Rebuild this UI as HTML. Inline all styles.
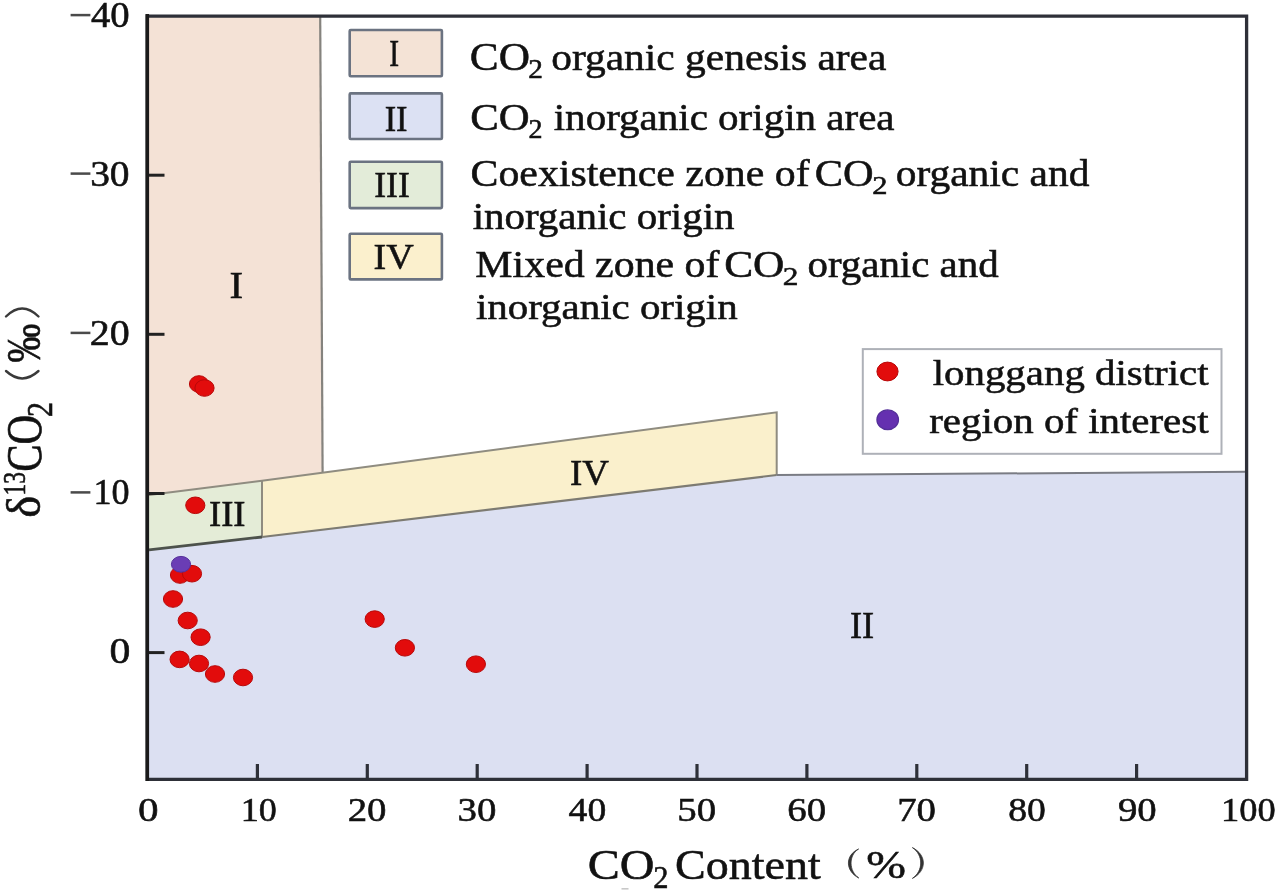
<!DOCTYPE html>
<html><head><meta charset="utf-8"><style>
html,body{margin:0;padding:0;background:#fff;}
svg{display:block;filter:blur(0.45px);}
text{font-family:"Liberation Serif", serif;stroke:#111;stroke-width:0.55px;paint-order:stroke;}
</style></head><body>
<svg width="1278" height="893" viewBox="0 0 1278 893">
<rect width="1278" height="893" fill="#fff"/>
<polygon points="149,17 320.2,17 322.6,472.5 262,480.8 149,495.0" fill="#f4e2d6"/>
<polygon points="149,495.0 262,480.8 262,537.0 149,549.8" fill="#e4ecd7"/>
<polygon points="262,480.8 776.7,412.3 776.7,475.0 262,537.0" fill="#faf0cc"/>
<polygon points="149,549.8 262,537.0 776.7,475.0 1245,471.8 1245,778 149,778" fill="#dce0f2"/>
<polyline points="320.2,17 322.6,472.5" fill="none" stroke="#85837e" stroke-width="2.2"/>
<polyline points="149,495.0 262,480.8 776.7,412.3 776.7,475.0" fill="none" stroke="#8f8c80" stroke-width="2"/>
<polyline points="262,480.8 262,537.0" fill="none" stroke="#8f8c80" stroke-width="2"/>
<polyline points="149,549.8 262,537.0" fill="none" stroke="#4d524c" stroke-width="2.8"/>
<polyline points="262,537.0 776.7,475.0" fill="none" stroke="#7d7b72" stroke-width="2.2"/>
<polyline points="776.7,475.0 1245,471.8" fill="none" stroke="#7a7c84" stroke-width="2"/>
<line x1="257.4" y1="764" x2="257.4" y2="779" stroke="#2e3038" stroke-width="3.2"/>
<line x1="367.3" y1="764" x2="367.3" y2="779" stroke="#2e3038" stroke-width="3.2"/>
<line x1="477.2" y1="764" x2="477.2" y2="779" stroke="#2e3038" stroke-width="3.2"/>
<line x1="587.1" y1="764" x2="587.1" y2="779" stroke="#2e3038" stroke-width="3.2"/>
<line x1="697.0" y1="764" x2="697.0" y2="779" stroke="#2e3038" stroke-width="3.2"/>
<line x1="806.9" y1="764" x2="806.9" y2="779" stroke="#2e3038" stroke-width="3.2"/>
<line x1="916.8" y1="764" x2="916.8" y2="779" stroke="#2e3038" stroke-width="3.2"/>
<line x1="1026.7" y1="764" x2="1026.7" y2="779" stroke="#2e3038" stroke-width="3.2"/>
<line x1="1136.6" y1="764" x2="1136.6" y2="779" stroke="#2e3038" stroke-width="3.2"/>
<line x1="148" y1="175.2" x2="164.5" y2="175.2" stroke="#222" stroke-width="3"/>
<line x1="148" y1="334.3" x2="164.5" y2="334.3" stroke="#222" stroke-width="3"/>
<line x1="148" y1="493.5" x2="164.5" y2="493.5" stroke="#222" stroke-width="3"/>
<line x1="148" y1="652.6" x2="164.5" y2="652.6" stroke="#222" stroke-width="3"/>
<rect x="70.6" y="13.85" width="19.8" height="2.5" fill="#4a4a4a"/>
<rect x="70.6" y="172.35" width="19.8" height="2.5" fill="#4a4a4a"/>
<rect x="70.6" y="331.65" width="19.8" height="2.5" fill="#4a4a4a"/>
<rect x="70.6" y="491.15" width="19.8" height="2.5" fill="#4a4a4a"/>
<path d="M147.3,16.1 H1246.6 V779.4 H147.3 Z" fill="none" stroke="#2e3038" stroke-width="3.3"/>
<line x1="147.3" y1="14" x2="147.3" y2="781" stroke="#1a1a1a" stroke-width="3.6"/>
<rect x="621.5" y="888" width="7" height="1.6" fill="#c8c8c8"/>
<rect x="349.7" y="30.0" width="92.19999999999999" height="46.25" fill="#f4e3d6" stroke="#6b7381" stroke-width="2.6" rx="1"/>
<rect x="349.7" y="93.4" width="92.19999999999999" height="45.599999999999994" fill="#dce1f3" stroke="#6b7381" stroke-width="2.6" rx="1"/>
<rect x="349.7" y="161.7" width="92.19999999999999" height="46.400000000000006" fill="#e3ecd9" stroke="#6b7381" stroke-width="2.6" rx="1"/>
<rect x="349.7" y="233.8" width="92.19999999999999" height="45.599999999999966" fill="#fbf0cd" stroke="#6b7381" stroke-width="2.6" rx="1"/>
<rect x="862.8" y="349.1" width="358.7" height="104.7" fill="#fff" stroke="#aeb1b8" stroke-width="2"/>
<ellipse cx="887.5" cy="371.5" rx="10.6" ry="9.4" fill="#e20c0c" stroke="#b80808" stroke-width="1"/>
<ellipse cx="887.7" cy="419.8" rx="10.8" ry="9.9" fill="#6530b0" stroke="#55309a" stroke-width="1.2"/>
<ellipse cx="199" cy="384" rx="9.6" ry="8.3" fill="#e20c0c" stroke="#b80808" stroke-width="1"/>
<ellipse cx="204.5" cy="388" rx="9.6" ry="8.3" fill="#e20c0c" stroke="#b80808" stroke-width="1"/>
<ellipse cx="195.3" cy="505.3" rx="9.6" ry="8.3" fill="#e20c0c" stroke="#b80808" stroke-width="1"/>
<ellipse cx="180" cy="575" rx="9.6" ry="8.3" fill="#e20c0c" stroke="#b80808" stroke-width="1"/>
<ellipse cx="192" cy="573.7" rx="9.6" ry="8.3" fill="#e20c0c" stroke="#b80808" stroke-width="1"/>
<ellipse cx="173" cy="599" rx="9.6" ry="8.3" fill="#e20c0c" stroke="#b80808" stroke-width="1"/>
<ellipse cx="187.7" cy="620.5" rx="9.6" ry="8.3" fill="#e20c0c" stroke="#b80808" stroke-width="1"/>
<ellipse cx="200.6" cy="637.2" rx="9.6" ry="8.3" fill="#e20c0c" stroke="#b80808" stroke-width="1"/>
<ellipse cx="179.6" cy="659.4" rx="9.6" ry="8.3" fill="#e20c0c" stroke="#b80808" stroke-width="1"/>
<ellipse cx="199" cy="663.5" rx="9.6" ry="8.3" fill="#e20c0c" stroke="#b80808" stroke-width="1"/>
<ellipse cx="215" cy="674" rx="9.6" ry="8.3" fill="#e20c0c" stroke="#b80808" stroke-width="1"/>
<ellipse cx="243" cy="677.5" rx="9.6" ry="8.3" fill="#e20c0c" stroke="#b80808" stroke-width="1"/>
<ellipse cx="374.7" cy="619.1" rx="9.6" ry="8.3" fill="#e20c0c" stroke="#b80808" stroke-width="1"/>
<ellipse cx="404.9" cy="647.8" rx="9.6" ry="8.3" fill="#e20c0c" stroke="#b80808" stroke-width="1"/>
<ellipse cx="475.9" cy="664.2" rx="9.6" ry="8.3" fill="#e20c0c" stroke="#b80808" stroke-width="1"/>
<ellipse cx="181" cy="564.3" rx="9.6" ry="7.9" fill="#6a3db5" stroke="#55309a" stroke-width="1"/>
<text transform="translate(469.81,69.70) scale(1.0961,1)" font-size="39.5" fill="#111">CO</text>
<text transform="translate(528.19,77.50) scale(1.1091,1)" font-size="26.4" fill="#111">2</text>
<text transform="translate(551.17,69.50) scale(1.0629,1)" font-size="39" fill="#111">organic genesis area</text>
<text transform="translate(470.18,130.10) scale(1.1100,1)" font-size="38.5" fill="#111">CO</text>
<text transform="translate(528.54,138.40) scale(1.0636,1)" font-size="26.4" fill="#111">2</text>
<text transform="translate(553.73,129.90) scale(1.0655,1)" font-size="38.5" fill="#111">inorganic origin area</text>
<text transform="translate(470.52,186.30) scale(1.0893,1)" font-size="38.4" fill="#111">Coexistence zone of</text>
<text transform="translate(814.69,186.30) scale(1.1040,1)" font-size="38.4" fill="#111">CO</text>
<text transform="translate(872.13,194.10) scale(1.1727,1)" font-size="26" fill="#111">2</text>
<text transform="translate(895.74,186.10) scale(1.0791,1)" font-size="38.4" fill="#111">organic and</text>
<text transform="translate(472.64,229.00) scale(1.1070,1)" font-size="37" fill="#111">inorganic origin</text>
<text transform="translate(475.37,276.50) scale(1.1316,1)" font-size="37" fill="#111">Mixed zone of</text>
<text transform="translate(724.15,276.70) scale(1.1729,1)" font-size="37" fill="#111">CO</text>
<text transform="translate(782.77,284.70) scale(1.2300,1)" font-size="25.5" fill="#111">2</text>
<text transform="translate(807.49,276.60) scale(1.1052,1)" font-size="37" fill="#111">organic and</text>
<text transform="translate(475.88,319.40) scale(1.1216,1)" font-size="36.5" fill="#111">inorganic origin</text>
<text transform="translate(932.66,384.50) scale(1.1360,1)" font-size="36" fill="#111">longgang district</text>
<text transform="translate(929.26,433.00) scale(1.1359,1)" font-size="36" fill="#111">region of interest</text>
<text transform="translate(389.20,66.25) scale(0.8000,1)" font-size="37" fill="#111">I</text>
<text transform="translate(384.66,130.60) scale(0.9409,1)" font-size="36.5" fill="#111">II</text>
<text transform="translate(374.28,197.00) scale(1.0212,1)" font-size="34.8" fill="#111">III</text>
<text transform="translate(373.44,269.10) scale(1.0595,1)" font-size="36" fill="#111">IV</text>
<text transform="translate(229.61,298.20) scale(1.0900,1)" font-size="37.5" fill="#111">I</text>
<text transform="translate(850.02,638.00) scale(0.9818,1)" font-size="37" fill="#111">II</text>
<text transform="translate(208.97,526.40) scale(1.0303,1)" font-size="35.5" fill="#111">III</text>
<text transform="translate(569.97,484.70) scale(1.0270,1)" font-size="36" fill="#111">IV</text>
<text transform="translate(90.89,26.80) scale(1.1121,1)" font-size="34.8" fill="#111">40</text>
<text transform="translate(90.13,185.80) scale(1.1344,1)" font-size="34.8" fill="#111">30</text>
<text transform="translate(89.71,344.70) scale(1.1469,1)" font-size="34.8" fill="#111">20</text>
<text transform="translate(93.49,503.60) scale(1.0355,1)" font-size="34.8" fill="#111">10</text>
<text transform="translate(109.50,662.70) scale(1.2000,1)" font-size="34.8" fill="#111">0</text>
<text transform="translate(138.00,821.30) scale(1.2000,1)" font-size="34.2" fill="#111">0</text>
<text transform="translate(240.63,821.30) scale(1.0567,1)" font-size="34.2" fill="#111">10</text>
<text transform="translate(347.63,821.30) scale(1.1355,1)" font-size="34.2" fill="#111">20</text>
<text transform="translate(457.53,821.30) scale(1.1355,1)" font-size="34.2" fill="#111">30</text>
<text transform="translate(568.60,821.30) scale(1.1000,1)" font-size="34.2" fill="#111">40</text>
<text transform="translate(677.33,821.30) scale(1.1355,1)" font-size="34.2" fill="#111">50</text>
<text transform="translate(787.23,821.30) scale(1.1355,1)" font-size="34.2" fill="#111">60</text>
<text transform="translate(897.13,821.30) scale(1.1355,1)" font-size="34.2" fill="#111">70</text>
<text transform="translate(1008.20,821.30) scale(1.1000,1)" font-size="34.2" fill="#111">80</text>
<text transform="translate(1117.97,821.30) scale(1.1344,1)" font-size="34.2" fill="#111">90</text>
<text transform="translate(1221.00,821.30) scale(1.0660,1)" font-size="34.2" fill="#111">100</text>
<text transform="translate(866.31,878.40) scale(1.1903,1)" font-size="40" fill="#111">%</text>
<text transform="translate(587.66,878.50) scale(1.1179,1)" font-size="43" fill="#111">CO</text>
<text transform="translate(653.30,887.80) scale(1.0000,1)" font-size="30.5" fill="#111">2</text>
<text transform="translate(675.06,878.50) scale(1.0701,1)" font-size="43" fill="#111">Content</text>
<text transform="translate(40.40,517.83) rotate(-90) scale(1.0647,1.0871)" font-size="44" fill="#111">δ</text>
<text transform="translate(24.90,495.42) rotate(-90) scale(0.8417,1.1222)" font-size="28" fill="#111">13</text>
<text transform="translate(41.00,471.87) rotate(-90) scale(0.9333,1.1379)" font-size="44" fill="#111">CO</text>
<text transform="translate(51.80,417.00) rotate(-90) scale(1.0000,1.1684)" font-size="30" fill="#111">2</text>
<text transform="translate(40.30,362.38) rotate(-90) scale(0.8762,1.1138)" font-size="44" fill="#111">‰</text>
<path d="M6,316.5 Q22.2,300.5 38.5,316.5" fill="none" stroke="#3a3a3a" stroke-width="2.4" stroke-linecap="round"/>
<path d="M6,371 Q22.2,385.8 38.5,371" fill="none" stroke="#3a3a3a" stroke-width="2.4" stroke-linecap="round"/>
<path d="M858.6,849 C845,855 845,871 858.8,878 C848.5,871 848.5,855 858.6,849 Z" fill="#333" stroke="#333" stroke-width="0.8"/>
<path d="M912.4,847.6 C927,855 927,871 912.4,878.4 C923.5,871 923.5,855 912.4,847.6 Z" fill="#333" stroke="#333" stroke-width="0.8"/>
</svg></body></html>
